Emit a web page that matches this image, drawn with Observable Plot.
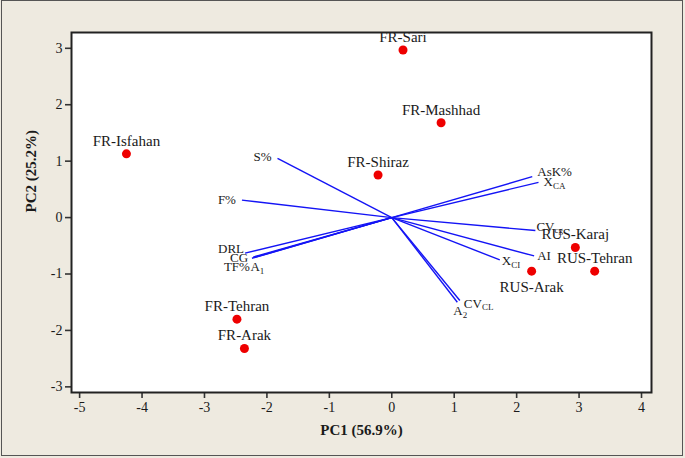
<!DOCTYPE html>
<html>
<head>
<meta charset="utf-8">
<script src="https://cdn.jsdelivr.net/npm/d3@7"></script>
<script src="https://cdn.jsdelivr.net/npm/@observablehq/plot@0.6"></script>
<style>
  html, body { margin: 0; padding: 0; background: #eeeae0; }
  #wrap { position: relative; width: 685px; height: 458px; background: #eeeae0; overflow: hidden; }
  #border { position: absolute; left: 1px; top: 0px; width: 680px; height: 454px; border: 1.5px solid #555; pointer-events: none; }
  #wrap svg g[aria-label="x-axis tick"] path, #wrap svg g[aria-label="y-axis tick"] path { stroke-width: 1.6; stroke: #333; }
</style>
</head>
<body>
<div id="wrap"><div id="border"></div></div>
<script>
// Sample scores
const samples = ["FR-Sari", "FR-Mashhad", "FR-Isfahan", "FR-Shiraz", "RUS-Karaj", "RUS-Tehran", "RUS-Arak", "FR-Tehran", "FR-Arak"];
const pc1 = [0.18, 0.79, -4.25, -0.22, 2.94, 3.25, 2.24, -2.48, -2.36];
const pc2 = [2.97, 1.68, 1.13, 0.755, -0.53, -0.95, -0.95, -1.80, -2.32];

// Variable loadings
const varBase = ["S%", "F%", "DRL", "CG", "TF%", "A", "AsK%", "X", "CV", "AI", "X", "A", "CV"];
const varSub  = ["", "", "", "", "", "1", "", "CA", "cg", "", "CI", "2", "CL"];
const load1 = [-1.83, -2.40, -2.35, -2.22, -2.24, -2.20, 2.25, 2.35, 2.30, 2.28, 1.73, 1.05, 1.09];
const load2 = [1.05, 0.31, -0.63, -0.70, -0.72, -0.71, 0.725, 0.625, -0.23, -0.68, -0.75, -1.50, -1.47];

// Axis ticks
const xTicks = [-5, -4, -3, -2, -1, 0, 1, 2, 3, 4];
const yTicks = [-3, -2, -1, 0, 1, 2, 3];

// Label styling (pixel nudges)
const sampleDy = samples.map(s => s === "RUS-Arak" ? 16 : -13);
const varAnchor = ["end", "end", "end", "end", "end", "start", "start", "start", "start", "start", "start", "start", "start"];
const varDx = [-6, -6, -1, -5, -2, -4, 5, 5, 1, 3, 2, -4, 4];
const varDy = [-2, 0, -4, 1, 9, 9, -5, 0, -4, 0, 1, 9, 3];

const FONT = "'Liberation Serif', 'Times New Roman', serif";
const ctx = document.createElement("canvas").getContext("2d");
ctx.font = "13px " + FONT;
const baseW = varBase.map(t => ctx.measureText(t).width);

const vi = d3.range(varBase.length);
const si = d3.range(samples.length);
const subIdx = vi.filter(i => varSub[i] !== "");

const chart = Plot.plot({
  width: 685,
  height: 458,
  marginLeft: 71,
  marginRight: 34,
  marginTop: 32,
  marginBottom: 66,
  style: { fontFamily: FONT, fontSize: "14px", background: "transparent", color: "#1a1a1a" },
  x: { domain: [-5.13, 4.16], ticks: xTicks, tickSize: 6, tickPadding: 4, tickFormat: d => String(d), label: null },
  y: { domain: [-3.10, 3.28], ticks: yTicks, tickSize: 6, tickPadding: 3, tickFormat: d => String(d), label: null },
  marks: [
    Plot.frame({ fill: "white" }),
    Plot.link(vi, { x1: () => 0, y1: () => 0, x2: i => load1[i], y2: i => load2[i], stroke: "#1414f5", strokeWidth: 1.4 }),
    Plot.dot(si, { x: i => pc1[i], y: i => pc2[i], r: 4.5, fill: "#ee0000", stroke: "none" }),
    ...si.map(i => Plot.text([i], { x: pc1[i], y: pc2[i], text: () => samples[i], dy: sampleDy[i], fontSize: 15, fill: "#1a1a1a" })),
    ...vi.map(i => Plot.text([i], { x: load1[i], y: load2[i], text: () => varBase[i], textAnchor: varAnchor[i], dx: varDx[i], dy: varDy[i], fontSize: 13, fill: "#1a1a1a" })),
    ...subIdx.map(i => Plot.text([i], { x: load1[i], y: load2[i], text: () => varSub[i], textAnchor: "start", dx: varDx[i] + baseW[i], dy: varDy[i] + 4, fontSize: 9, fill: "#1a1a1a" })),
    Plot.frame({ stroke: "#222", strokeWidth: 2 }),
    Plot.text(["PC1 (56.9%)"], { frameAnchor: "bottom", dy: 42, fontSize: 15, fontWeight: "bold", fill: "#1a1a1a" }),
    Plot.text(["PC2 (25.2%)"], { frameAnchor: "left", dx: -40, rotate: -90, fontSize: 15, fontWeight: "bold", fill: "#1a1a1a" })
  ]
});
document.getElementById("wrap").insertBefore(chart, document.getElementById("border"));
chart.style.position = "absolute";
chart.style.left = "0px";
chart.style.top = "0px";
</script>
</body>
</html>
